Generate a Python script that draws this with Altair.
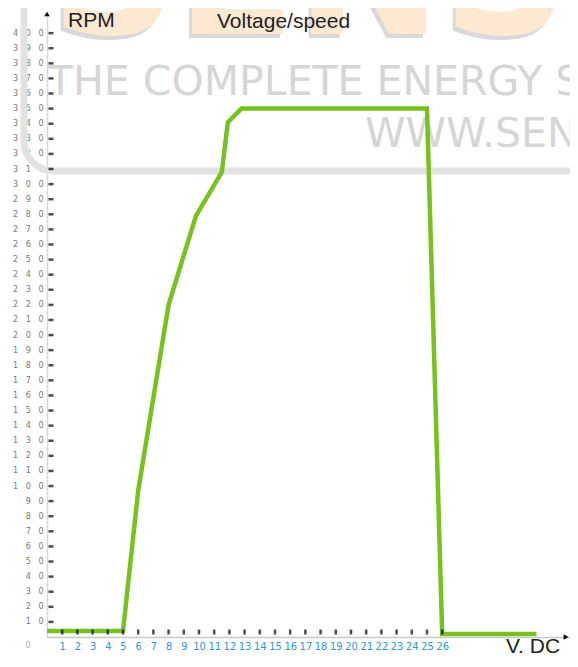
import altair as alt
import pandas as pd

# ---- data ----
volts = [0, 5, 6, 8, 9.8, 11.5, 11.9, 12.8, 25, 26, 32.2]
rpm = [4, 4, 97, 220, 279, 308, 341, 350, 350, 2, 2]
y_ticks = list(range(10, 410, 10))
x_ticks = list(range(1, 27))

y_title = "RPM"
chart_title = "Voltage/speed"
x_title = "V. DC"
origin_label = "0"
wm_logo = "SENS"
wm_line1 = "THE COMPLETE ENERGY SOLUTIONS"
wm_line2 = "WWW.SENS"

X_DOMAIN = [0, 34.41]
Y_DOMAIN = [0, 414]
W, H = 523, 625

line_df = pd.DataFrame({"v": volts, "rpm": rpm})
yt_df = pd.DataFrame({"v": [0] * len(y_ticks), "rpm": y_ticks})
xt_df = pd.DataFrame({"v": x_ticks, "rpm": [0] * len(x_ticks)})
one = pd.DataFrame({"a": [0]})

xs = alt.Scale(domain=X_DOMAIN, nice=False, zero=False)
ys = alt.Scale(domain=Y_DOMAIN, nice=False)

x_axis = alt.Axis(
    values=x_ticks, ticks=False, grid=False, title=None,
    domainColor="#c8c8c8", domainWidth=1.5,
    labelColor="#2f96d6", labelFontSize=11,
    labelFont="Liberation Sans Narrow, DejaVu Sans Condensed, Liberation Sans",
    labelPadding=3, labelFlush=False, labelOverlap=False)
y_axis = alt.Axis(
    values=y_ticks, ticks=False, grid=False, title=None,
    domainColor="#d8d8d8", domainWidth=1.5,
    labelColor="#7a7a7a", labelFontSize=8, labelFont="DejaVu Sans",
    labelPadding=4, labelOverlap=False,
    labelExpr="replace(datum.label, regexp('([0-9])(?=[0-9])', 'g'), '$1\u00a0\u00a0\u00a0')")

# ---- watermark ----
wm_frame = alt.Chart(one).mark_rect(
    filled=False, color="#e2e2e2", strokeWidth=7, cornerRadius=30
).encode(x=alt.value(-23), x2=alt.value(660), y=alt.value(-112), y2=alt.value(159))

wm_logo_shadow = alt.Chart(one).mark_text(
    text=wm_logo, font="DejaVu Sans", fontWeight="bold", fontSize=175,
    color="#d9d9d9", align="left", baseline="alphabetic", dx=-3, dy=4
).encode(x=alt.value(3), y=alt.value(22))
wm_logo_text = alt.Chart(one).mark_text(
    text=wm_logo, font="DejaVu Sans", fontWeight="bold", fontSize=175,
    color="#fde9d2", align="left", baseline="alphabetic"
).encode(x=alt.value(3), y=alt.value(22))

wm_t1 = alt.Chart(one).mark_text(
    text=wm_line1, font="DejaVu Sans", fontSize=41, color="#d6d6d6",
    align="left", baseline="alphabetic"
).encode(x=alt.value(1), y=alt.value(83))
wm_t2 = alt.Chart(one).mark_text(
    text=wm_line2, font="DejaVu Sans", fontSize=41, color="#d6d6d6",
    align="left", baseline="alphabetic"
).encode(x=alt.value(318), y=alt.value(135))

# ---- data line, carrying the axes ----
line = alt.Chart(line_df).mark_line(color="#79c11f", strokeWidth=4.5, strokeJoin="miter").encode(
    x=alt.X("v:Q", scale=xs, axis=x_axis),
    y=alt.Y("rpm:Q", scale=ys, axis=y_axis),
    order="v:Q",
)

ytick = alt.Chart(yt_df).mark_tick(orient="horizontal", color="black", size=5, thickness=2.5).encode(
    y=alt.Y("rpm:Q", scale=ys, axis=y_axis), x=alt.value(4))
xtick = alt.Chart(xt_df).mark_tick(orient="vertical", color="black", size=5, thickness=2.5).encode(
    x=alt.X("v:Q", scale=xs, axis=x_axis), y=alt.value(620))

arrow_y = alt.Chart(one).mark_point(shape="triangle-up", filled=True, color="black", size=30, opacity=1).encode(
    x=alt.value(0), y=alt.value(2))
arrow_x = alt.Chart(one).mark_point(shape="triangle-right", filled=True, color="black", size=30, opacity=1).encode(
    x=alt.value(519), y=alt.value(625))

t_rpm = alt.Chart(one).mark_text(
    text=y_title, font="Liberation Sans", fontSize=21, color="#222222",
    align="left", baseline="alphabetic").encode(x=alt.value(21), y=alt.value(15))
t_title = alt.Chart(one).mark_text(
    text=chart_title, font="Liberation Sans", fontSize=21, color="#222222",
    align="left", baseline="alphabetic").encode(x=alt.value(170), y=alt.value(16))
t_x = alt.Chart(one).mark_text(
    text=x_title, font="Liberation Sans", fontSize=21, color="#222222",
    align="left", baseline="alphabetic").encode(x=alt.value(459), y=alt.value(641))
t_0 = alt.Chart(one).mark_text(
    text=origin_label, font="DejaVu Sans", fontSize=8, color="#aaaaaa",
    align="center", baseline="middle").encode(x=alt.value(-19), y=alt.value(634))

chart = alt.layer(
    wm_frame, wm_logo_shadow, wm_logo_text, wm_t1, wm_t2,
    line, ytick, xtick, arrow_y, arrow_x, t_rpm, t_title, t_x, t_0
).properties(
    width=W, height=H,
    padding={"left": 39, "top": 4, "right": 0, "bottom": 17},
    autosize=alt.AutoSizeParams(type="none"),
    background="white",
).configure_view(stroke=None)

chart.save("out.html", embed_options={"renderer": "svg", "actions": False})
